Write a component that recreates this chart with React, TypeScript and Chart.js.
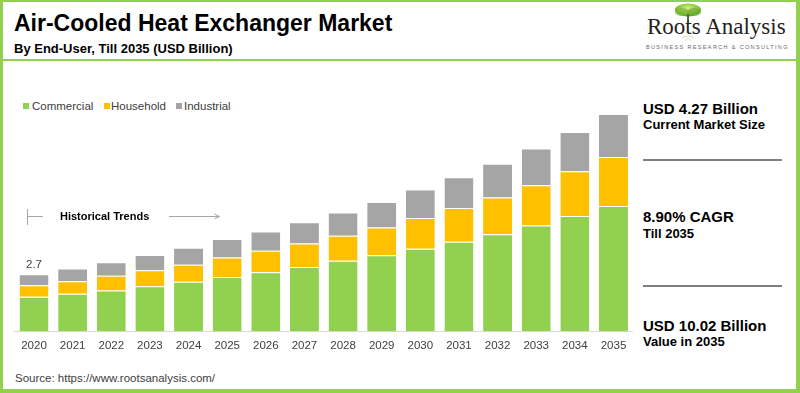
import React, { useEffect, useRef } from "react";
import { Chart, registerables } from "chart.js";

Chart.register(...registerables);

const years = ["2020","2021","2022","2023","2024","2025","2026","2027","2028","2029","2030","2031","2032","2033","2034","2035"];
const commercial = [1.61,1.75,1.90,2.10,2.31,2.54,2.76,3.01,3.30,3.56,3.86,4.19,4.54,4.95,5.39,5.86];
const household = [0.54,0.59,0.69,0.75,0.80,0.91,1.00,1.09,1.17,1.29,1.44,1.58,1.72,1.88,2.10,2.29];
const industrial = [0.52,0.60,0.64,0.72,0.80,0.86,0.91,1.00,1.08,1.20,1.33,1.43,1.58,1.72,1.83,2.02];
const seriesNames = ["Commercial", "Household", "Industrial"];
const seriesColors = ["#92D050", "#FFC000", "#A5A5A5"];
const firstLabel = "2.7";

const SANS = "'Liberation Sans', Arial, sans-serif";

const labelPlugin = {
  id: "firstLabel",
  afterDatasetsDraw(chart: any) {
    const meta = chart.getDatasetMeta(2);
    const bar = meta.data[0];
    if (!bar) return;
    const ctx = chart.ctx;
    ctx.save();
    ctx.font = "11.5px " + SANS;
    ctx.fillStyle = "#404040";
    ctx.textAlign = "center";
    ctx.textBaseline = "alphabetic";
    ctx.fillText(firstLabel, bar.x, bar.y - 6);
    ctx.restore();
  },
};

function BarChart() {
  const ref = useRef<HTMLCanvasElement | null>(null);
  useEffect(() => {
    if (!ref.current) return;
    const data = [commercial, household, industrial];
    const chart = new Chart(ref.current, {
      type: "bar",
      data: {
        labels: years,
        datasets: data.map((d, i) => ({
          label: seriesNames[i],
          data: d,
          backgroundColor: seriesColors[i],
          borderColor: "rgba(255,255,255,0.75)",
          borderWidth: { top: 1, left: 0, right: 0, bottom: 0 },
          borderSkipped: false,
          categoryPercentage: 1,
          barPercentage: 0.75,
        })),
      },
      options: {
        animation: false,
        responsive: false,
        maintainAspectRatio: false,
        layout: { padding: { left: 14.7, right: 7.2, top: 38, bottom: 2 } },
        plugins: {
          legend: { display: false },
          tooltip: { enabled: false },
        },
        scales: {
          x: {
            stacked: true,
            grid: { display: false, drawTicks: false },
            border: { display: true, color: "#d9d9d9", width: 1 },
            ticks: { color: "#404040", font: { size: 11.5, family: SANS }, padding: 7.5, maxRotation: 0 },
          },
          y: {
            stacked: true,
            display: false,
            min: 0,
            max: 10.82,
          },
        },
      },
      plugins: [labelPlugin],
    });
    return () => chart.destroy();
  }, []);
  return (
    <canvas
      ref={ref}
      width={640}
      height={300}
      style={{ position: "absolute", left: 0, top: 62, width: 640, height: 300 }}
    />
  );
}

const txt = (extra: React.CSSProperties): React.CSSProperties => ({
  position: "absolute",
  fontFamily: SANS,
  whiteSpace: "nowrap",
  margin: 0,
  ...extra,
});

export default function App() {
  const legendItems = [
    { box: 23, text: 32 },
    { box: 103.5, text: 111 },
    { box: 176, text: 184 },
  ];
  return (
    <div
      style={{
        position: "absolute",
        left: 0,
        top: 0,
        width: 800,
        height: 393,
        background: "#fff",
        overflow: "hidden",
      }}
    >
      {/* frame */}
      <div style={{ position: "absolute", left: 0, top: 0, width: 800, height: 2, background: "#92D050" }} />
      <div style={{ position: "absolute", left: 0, top: 0, width: 3, height: 393, background: "#92D050" }} />
      <div style={{ position: "absolute", left: 796, top: 0, width: 4, height: 393, background: "#92D050" }} />
      <div style={{ position: "absolute", left: 0, top: 389, width: 800, height: 4, background: "#92D050" }} />
      <div style={{ position: "absolute", left: 0, top: 59, width: 800, height: 2, background: "#92D050" }} />

      {/* title */}
      <div style={txt({ left: 14, top: 10.2, fontSize: 23, lineHeight: "27px", fontWeight: "bold", color: "#000" })}>
        Air-Cooled Heat Exchanger Market
      </div>
      <div style={txt({ left: 14, top: 41.3, fontSize: 13, lineHeight: "15px", fontWeight: "bold", color: "#000" })}>
        By End-User, Till 2035 (USD Billion)
      </div>

      {/* logo */}
      <svg style={{ position: "absolute", left: 660, top: 0 }} width={60} height={50}>
        <defs>
          <radialGradient id="treeG" cx="50%" cy="35%" r="60%">
            <stop offset="0%" stopColor="#d8ef9a" />
            <stop offset="60%" stopColor="#8cc63f" />
            <stop offset="100%" stopColor="#4f9a2a" />
          </radialGradient>
        </defs>
        <ellipse cx={28} cy={10} rx={13} ry={6.5} fill="url(#treeG)" />
        <ellipse cx={22} cy={12} rx={7} ry={4} fill="#7dbb3a" opacity={0.7} />
        <ellipse cx={34} cy={12} rx={7} ry={4} fill="#6fae35" opacity={0.7} />
        <path d="M27 14 L27 22 L29 22 L29 14 Z" fill="#5a6b3a" />
        <path d="M22 38 Q28 34 34 38 M25 41 Q28 36 31 41" stroke="#c9d8b8" strokeWidth={0.8} fill="none" />
      </svg>
      <div style={txt({ left: 647, top: 14.3, fontFamily: "'Liberation Serif', 'Times New Roman', serif", fontSize: 23, lineHeight: "26px", color: "#222" })}>
        Roots Analysis
      </div>
      <div style={txt({ left: 646, top: 43.5, fontSize: 5.5, lineHeight: "6px", letterSpacing: 1.35, color: "#666" })}>
        BUSINESS RESEARCH &amp; CONSULTING
      </div>

      {/* legend */}
      {legendItems.map((it, i) => (
        <React.Fragment key={i}>
          <div style={{ position: "absolute", left: it.box, top: 103, width: 6, height: 6, background: seriesColors[i] }} />
          <div style={txt({ left: it.text, top: 99, fontSize: 11.5, lineHeight: "14px", color: "#404040" })}>
            {seriesNames[i]}
          </div>
        </React.Fragment>
      ))}

      <BarChart />

      {/* historical trends */}
      <svg style={{ position: "absolute", left: 0, top: 200 }} width={240} height={40}>
        <line x1={27.5} y1={9} x2={27.5} y2={25} stroke="#a6a6a6" strokeWidth={1} />
        <line x1={27.5} y1={16.5} x2={43} y2={16.5} stroke="#a6a6a6" strokeWidth={1} />
        <line x1={169} y1={16.5} x2={219} y2={16.5} stroke="#a6a6a6" strokeWidth={1} />
        <polyline points="214.5,14 219.5,16.5 214.5,19" stroke="#a6a6a6" strokeWidth={1} fill="none" />
      </svg>
      <div style={txt({ left: 60, top: 210.4, fontSize: 11, lineHeight: "13px", fontWeight: "bold", color: "#000" })}>
        Historical Trends
      </div>

      {/* right panel */}
      <div style={txt({ left: 643, top: 99.6, fontSize: 15, lineHeight: "17px", fontWeight: "bold", color: "#000" })}>
        USD 4.27 Billion
      </div>
      <div style={txt({ left: 643, top: 117.3, fontSize: 13, lineHeight: "15px", fontWeight: "bold", color: "#000" })}>
        Current Market Size
      </div>
      <div style={{ position: "absolute", left: 643, top: 159, width: 139, height: 2, background: "#808080" }} />
      <div style={txt({ left: 643, top: 208, fontSize: 15, lineHeight: "17px", fontWeight: "bold", color: "#000" })}>
        8.90% CAGR
      </div>
      <div style={txt({ left: 643, top: 225.7, fontSize: 13, lineHeight: "15px", fontWeight: "bold", color: "#000" })}>
        Till 2035
      </div>
      <div style={{ position: "absolute", left: 643, top: 285, width: 139, height: 2, background: "#808080" }} />
      <div style={txt({ left: 643, top: 317, fontSize: 15, lineHeight: "17px", fontWeight: "bold", color: "#000" })}>
        USD 10.02 Billion
      </div>
      <div style={txt({ left: 643, top: 334, fontSize: 13, lineHeight: "15px", fontWeight: "bold", color: "#000" })}>
        Value in 2035
      </div>

      {/* source */}
      <div style={txt({ left: 15, top: 370.7, fontSize: 11.5, lineHeight: "14px", color: "#404040" })}>
        Source: https://www.rootsanalysis.com/
      </div>
    </div>
  );
}
